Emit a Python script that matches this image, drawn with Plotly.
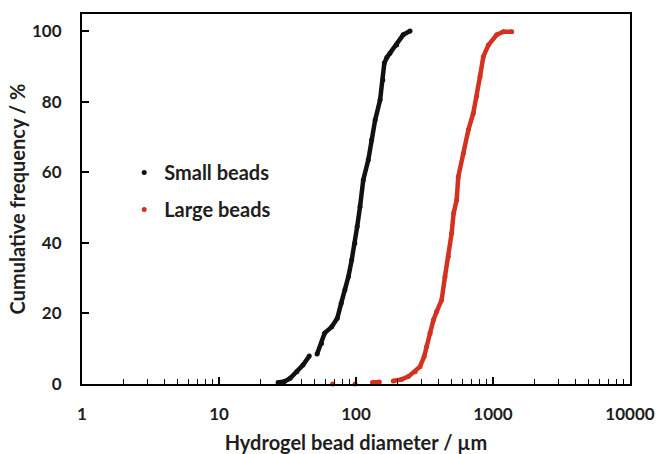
import plotly.graph_objects as go

# Small beads: diameter (um) and cumulative frequency (%)
small_d = [27, 30, 33, 37, 41, 45.6, None, 52, 56, 59, 66.5, 73, 78, 83, 88, 93, 98, 102, 107,
           113, 123, 130, 138, 150, 157, 161, 168, 177, 198, 221, 248]
small_f = [0.4, 0.7, 1.6, 3.5, 5.4, 7.9, None, 8.5, 11.5, 14.4, 16.2, 18.6, 22.9, 26.6, 30.4, 35.1,
           39.9, 44.6, 50.2, 57.8, 63.5, 69.1, 74.8, 80.5, 86.1, 90.9, 92.5, 93.7, 96, 98.9, 100]

# Large beads (None separates the isolated points near zero)
large_d = [67.6, None, 98.4, None, 132, 148, None, 187, 215, 241, 270, 293, 314, 328, 347, 367, 388,
           422, 446, 472, 499, 516, 543, 558, 607, 661, 718, 760, 804, 850, 925, 1064, 1189, 1370]
large_f = [0, None, 0, None, 0.4, 0.6, None, 0.85, 1.3, 2.1, 3.5, 4.9, 7.7, 10.6, 14.4, 18.1, 20.5,
           23.8, 30.4, 36.1, 42.7, 48.4, 52.1, 58.7, 65.3, 72, 76.7, 81.4, 87.1, 92.7, 96, 98.9,
           99.8, 99.8]

x_ticks = [1, 10, 100, 1000, 10000]
x_labels = ["1", "10", "100", "1000", "10000"]
y_ticks = [0, 20, 40, 60, 80, 100]
minor_x = [m * 10 ** e for e in range(4) for m in range(2, 10)]

BLACK = "#111111"
RED = "#d2321f"
FONT = "Lato"
TXT = "#1e1e1e"

fig = go.Figure()
for d, f, c, name in [(small_d, small_f, BLACK, "Small beads"), (large_d, large_f, RED, "Large beads")]:
    fig.add_trace(go.Scatter(x=d, y=f, mode="lines", line=dict(color=c, width=4.5),
                             showlegend=False, hoverinfo="skip", connectgaps=False, cliponaxis=False))
    fig.add_trace(go.Scatter(x=d, y=f, mode="markers", marker=dict(color=c, size=5),
                             name=name, legendgroup=name, cliponaxis=False))

axis_common = dict(showline=True, linecolor="#000000", linewidth=2, mirror=True,
                   ticks="inside", tickcolor="#000000", tickwidth=1.5, ticklen=7,
                   showgrid=False, zeroline=False, automargin=False,
                   tickfont=dict(family=FONT, size=17, color=TXT, weight="bold"))

fig.update_layout(
    width=662, height=454,
    margin=dict(l=82, r=32, t=14, b=70),
    paper_bgcolor="white", plot_bgcolor="white",
    font=dict(family=FONT, color=TXT),
    xaxis=dict(type="log", range=[0, 4], tickvals=x_ticks, ticktext=x_labels,
               minor=dict(tickvals=minor_x, ticks="inside", ticklen=5, tickcolor="#000000", tickwidth=1.2),
               ticklabelstandoff=14,
               title=dict(text="Hydrogel bead diameter / µm", standoff=16,
                          font=dict(family=FONT, size=20, color=TXT, weight="bold")),
               **axis_common),
    yaxis=dict(range=[0, 104.8], tickvals=y_ticks, ticklabelstandoff=15,
               title=dict(text="Cumulative frequency / %", standoff=1,
                          font=dict(family=FONT, size=20, color=TXT, weight="bold")),
               **axis_common),
    legend=dict(x=0.077, y=0.624, xanchor="left", yanchor="top", bgcolor="rgba(0,0,0,0)",
                font=dict(family=FONT, size=20, color=TXT, weight="bold"),
                tracegroupgap=8, itemwidth=30),
)

fig.write_html("out.html")
